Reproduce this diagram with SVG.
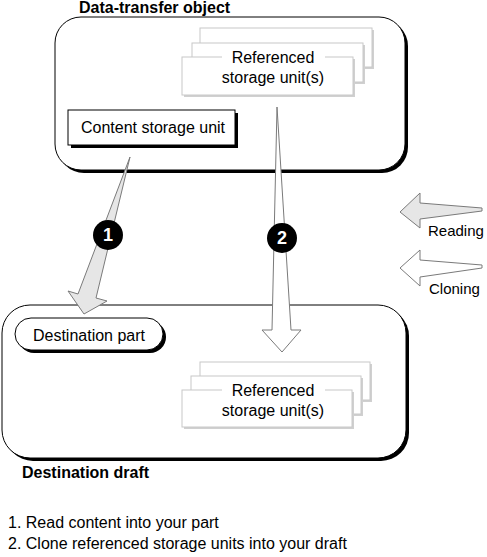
<svg xmlns="http://www.w3.org/2000/svg" width="487" height="557" viewBox="0 0 487 557">
<style>
text{font-family:"Liberation Sans",Arial,sans-serif;font-size:16px;fill:#000}
.b{font-weight:bold}
.m{text-anchor:middle}
.lg{font-size:15px}
.box{fill:#fff;stroke:#000;stroke-width:1}
.shd{fill:#000}
.su{fill:#fff;stroke:#c8c8c8;stroke-width:1}
.sus{fill:#d0d0d0}
.num{fill:#fff;font-weight:bold;font-size:18px;text-anchor:middle}
</style>
<rect width="487" height="557" fill="#fff"/>
<g id="data-transfer-object">
<rect class="shd" x="58" y="20" width="350" height="153" rx="26"/>
<rect class="box" x="55" y="17" width="350" height="153" rx="26"/>
<text class="b" x="79" y="13">Data-transfer object</text>
</g>
<g id="top-referenced-units">
<rect class="sus" x="202" y="30" width="172" height="39"/>
<rect class="su" x="200" y="28" width="172" height="39"/>
<rect class="sus" x="194" y="45" width="171" height="39"/>
<rect class="su" x="192" y="43" width="171" height="39"/>
<rect class="sus" x="184" y="59" width="171" height="38"/>
<rect class="su" x="182" y="57" width="171" height="38"/>
<rect x="222" y="52" width="103" height="10" fill="#fff"/>
<text class="m" x="273" y="63">Referenced</text>
<text class="m" x="273" y="83">storage unit(s)</text>
</g>
<g id="content-storage-unit">
<rect class="shd" x="71" y="113" width="167" height="35"/>
<rect class="box" x="68" y="110" width="167" height="35"/>
<text class="m" x="153" y="133">Content storage unit</text>
</g>
<g id="destination-draft">
<rect class="shd" x="5" y="308" width="404" height="153" rx="28"/>
<rect class="box" x="2" y="305" width="404" height="153" rx="28"/>
<text class="b" x="22" y="478">Destination draft</text>
</g>
<g id="destination-part">
<rect class="shd" x="18" y="321" width="148" height="32" rx="16"/>
<rect class="box" x="15" y="318" width="148" height="32" rx="16"/>
<text class="m" x="89" y="341">Destination part</text>
</g>
<g id="bottom-referenced-units">
<rect class="sus" x="202" y="364" width="170" height="38"/>
<rect class="su" x="200" y="362" width="170" height="38"/>
<rect class="sus" x="193" y="378" width="170" height="38"/>
<rect class="su" x="191" y="376" width="170" height="38"/>
<rect class="sus" x="184" y="392" width="170" height="37"/>
<rect class="su" x="182" y="390" width="170" height="37"/>
<rect x="222" y="385" width="103" height="10" fill="#fff"/>
<text class="m" x="273" y="396">Referenced</text>
<text class="m" x="273" y="416">storage unit(s)</text>
</g>
<g id="connectors">
<polygon points="130,157 96,298 107,301 84,314 68,291 78,294" fill="#e6e6e6" stroke="#7a7a7a" stroke-width="1" stroke-linejoin="miter"/>
<polygon points="277,107 291,330 301,330 282,352 262,330 272,330" fill="#fff" stroke="#7a7a7a" stroke-width="1"/>
</g>
<g id="step-1">
<circle cx="108" cy="235" r="15" fill="#000"/>
<text class="num" x="108" y="241">1</text>
</g>
<g id="step-2">
<circle cx="282" cy="238" r="15" fill="#000"/>
<text class="num" x="282" y="244">2</text>
</g>
<g id="legend-reading">
<polygon points="400,212 420,193 420,203 482,208 482,211 420,219 420,228" fill="#e6e6e6" stroke="#7a7a7a" stroke-width="1"/>
<text class="lg" x="428" y="236">Reading</text>
</g>
<g id="legend-cloning">
<polygon points="400,268 420,250 420,260 482,265 482,268 420,277 420,286" fill="#fff" stroke="#7a7a7a" stroke-width="1"/>
<text class="lg" x="429" y="294">Cloning</text>
</g>
<g id="notes">
<text x="8" y="528">1. Read content into your part</text>
<text x="8" y="549">2. Clone referenced storage units into your draft</text>
</g>
</svg>
